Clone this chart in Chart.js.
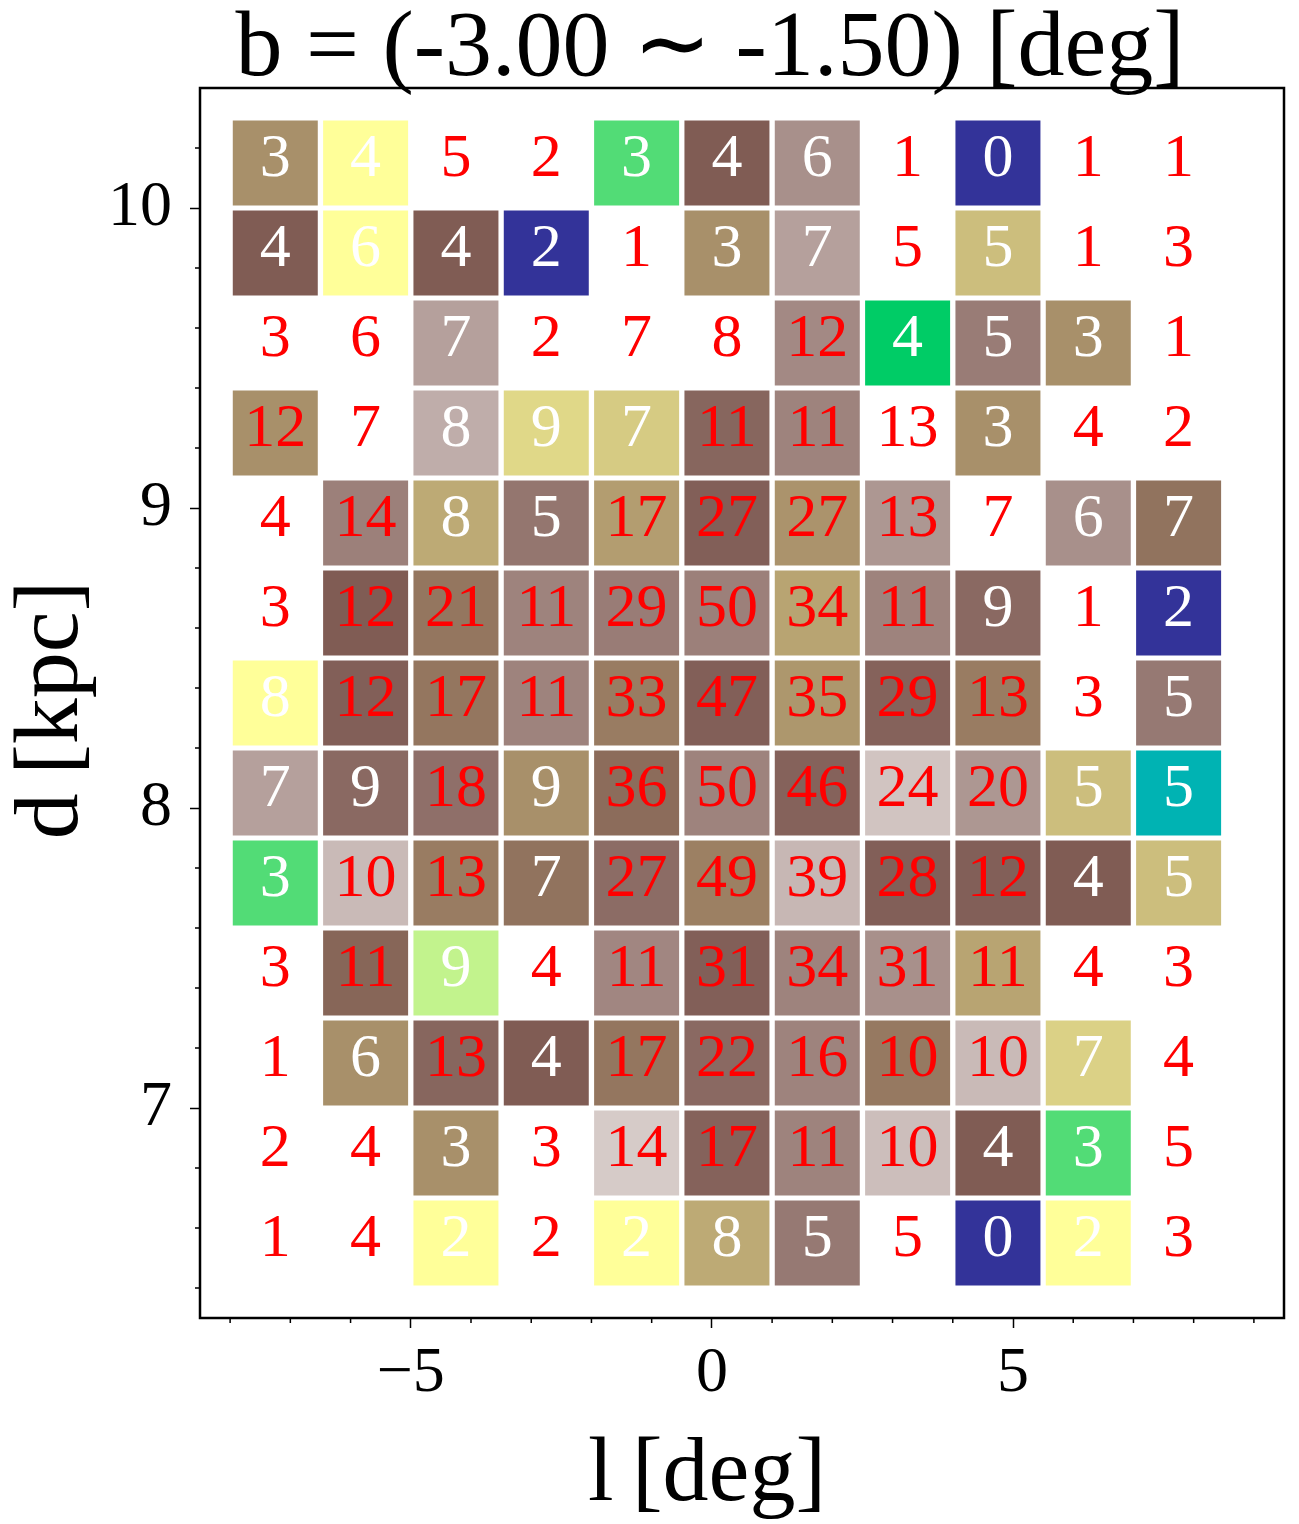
<!DOCTYPE html>
<html><head><meta charset="utf-8">
<script src="https://cdn.jsdelivr.net/npm/chart.js@4.4.1/dist/chart.umd.min.js"></script>
<style>html,body{margin:0;padding:0;background:#fff;}canvas{display:block;}</style>
</head><body>
<canvas id="c" width="1299" height="1524"></canvas>
<script>
// ---------------- data ----------------
const titleText = 'b = (-3.00 \u223C -1.50) [deg]';
const xLabel = 'l\u2009[deg]';
const yLabel = 'd\u2009[kpc]';

// bin centres
const lCenters = [-7.25, -5.75, -4.25, -2.75, -1.25, 0.25, 1.75, 3.25, 4.75, 6.25, 7.75];
const dCenters = [10.15, 9.85, 9.55, 9.25, 8.95, 8.65, 8.35, 8.05, 7.75, 7.45, 7.15, 6.85, 6.55];
const lBin = 1.5;
const dBin = 0.3;

// star counts per cell (rows top -> bottom)
const counts = [
  [3, 4, 5, 2, 3, 4, 6, 1, 0, 1, 1],
  [4, 6, 4, 2, 1, 3, 7, 5, 5, 1, 3],
  [3, 6, 7, 2, 7, 8, 12, 4, 5, 3, 1],
  [12, 7, 8, 9, 7, 11, 11, 13, 3, 4, 2],
  [4, 14, 8, 5, 17, 27, 27, 13, 7, 6, 7],
  [3, 12, 21, 11, 29, 50, 34, 11, 9, 1, 2],
  [8, 12, 17, 11, 33, 47, 35, 29, 13, 3, 5],
  [7, 9, 18, 9, 36, 50, 46, 24, 20, 5, 5],
  [3, 10, 13, 7, 27, 49, 39, 28, 12, 4, 5],
  [3, 11, 9, 4, 11, 31, 34, 31, 11, 4, 3],
  [1, 6, 13, 4, 17, 22, 16, 10, 10, 7, 4],
  [2, 4, 3, 3, 14, 17, 11, 10, 4, 3, 5],
  [1, 4, 2, 2, 2, 8, 5, 5, 0, 2, 3]
];

// colour-scale level per cell (0..1 on the terrain map, null = empty cell)
const levels = [
  [0.67, 0.50, null, null, 0.33, 0.75, 0.83, null, 0.00, null, null],
  [0.75, 0.50, 0.75, 0.00, null, 0.67, 0.855, null, 0.60, null, null],
  [null, null, 0.855, null, null, null, 0.82, 0.25, 0.80, 0.67, null],
  [0.67, null, 0.875, 0.56, 0.58, 0.765, 0.81, null, 0.67, null, null],
  [null, 0.805, 0.63, 0.79, 0.65, 0.755, 0.665, 0.84, null, 0.83, 0.715],
  [null, 0.75, 0.71, 0.81, 0.80, 0.805, 0.64, 0.81, 0.77, null, 0.00],
  [0.50, 0.755, 0.71, 0.81, 0.70, 0.755, 0.66, 0.76, 0.70, null, 0.795],
  [0.855, 0.77, 0.78, 0.67, 0.725, 0.81, 0.76, 0.91, 0.84, 0.60, 0.20],
  [0.33, 0.895, 0.70, 0.715, 0.775, 0.695, 0.89, 0.755, 0.755, 0.75, 0.60],
  [null, 0.735, 0.44, null, 0.815, 0.755, 0.81, 0.83, 0.64, null, null],
  [null, 0.67, 0.765, 0.75, 0.71, 0.77, 0.81, 0.705, 0.895, 0.57, null],
  [null, null, 0.67, null, 0.92, 0.76, 0.81, 0.90, 0.75, 0.33, null],
  [null, null, 0.50, null, 0.50, 0.63, 0.795, null, 0.00, 0.50, null]
];

const xMajorTicks = [-5, 0, 5];
const yMajorTicks = [7, 8, 9, 10];
const xMinorTicks = [-8, -7, -6, -4, -3, -2, -1, 1, 2, 3, 4, 6, 7, 8, 9];
const yMinorTicks = [6.4, 6.6, 6.8, 7.2, 7.4, 7.6, 7.8, 8.2, 8.4, 8.6, 8.8, 9.2, 9.4, 9.6, 9.8, 10.2];
const xRange = [-8.5, 9.5];
const yRange = [6.3, 10.4];

// ---------------- styling helpers ----------------
const FONT = '"Liberation Serif", "Times New Roman", serif';
const terrainStops = [
  [0.00, [0.2, 0.2, 0.6]],
  [0.15, [0.0, 0.6, 1.0]],
  [0.25, [0.0, 0.8, 0.4]],
  [0.50, [1.0, 1.0, 0.6]],
  [0.75, [0.5, 0.36, 0.33]],
  [1.00, [1.0, 1.0, 1.0]]
];
function terrain(v) {
  v = Math.max(0, Math.min(1, v));
  for (let i = 1; i < terrainStops.length; i++) {
    const [v1, c1] = terrainStops[i];
    const [v0, c0] = terrainStops[i - 1];
    if (v <= v1) {
      const f = (v - v0) / (v1 - v0);
      const c = c0.map((a, k) => Math.round(255 * (a + (c1[k] - a) * f)));
      return `rgb(${c[0]},${c[1]},${c[2]})`;
    }
  }
  return '#ffffff';
}

const cells = [];
dCenters.forEach((d, r) => {
  lCenters.forEach((l, c) => {
    cells.push({ x: l, y: d, n: counts[r][c], v: levels[r][c] });
  });
});

const GAP = 5;
function cellRadius(ctx) {
  const s = ctx.chart.scales;
  if (!s.x || !s.y) return 0;
  const w = Math.abs(s.x.getPixelForValue(lBin) - s.x.getPixelForValue(0));
  const h = Math.abs(s.y.getPixelForValue(dBin) - s.y.getPixelForValue(0));
  return (Math.min(w, h) - GAP) / Math.SQRT2;
}

const decorPlugin = {
  id: 'decor',
  afterDatasetsDraw(chart) {
    const ctx = chart.ctx;
    const meta = chart.getDatasetMeta(0);
    const data = chart.data.datasets[0].data;
    ctx.save();
    ctx.font = '62px ' + FONT;
    ctx.textAlign = 'center';
    ctx.textBaseline = 'middle';
    meta.data.forEach((pt, i) => {
      const d = data[i];
      ctx.fillStyle = (d.v === null || d.n >= 10) ? '#ff0000' : '#ffffff';
      ctx.fillText(String(d.n), pt.x, pt.y - 3);
    });
    ctx.restore();
  },
  afterDraw(chart) {
    const ctx = chart.ctx;
    const a = chart.chartArea;
    const sx = chart.scales.x, sy = chart.scales.y;
    ctx.save();
    // minor ticks
    ctx.strokeStyle = '#000';
    ctx.lineWidth = 1.5;
    ctx.beginPath();
    xMinorTicks.forEach(v => {
      const px = sx.getPixelForValue(v);
      ctx.moveTo(px, a.bottom); ctx.lineTo(px, a.bottom + 5);
    });
    yMinorTicks.forEach(v => {
      const py = sy.getPixelForValue(v);
      ctx.moveTo(a.left, py); ctx.lineTo(a.left - 5, py);
    });
    ctx.stroke();
    // frame
    ctx.lineWidth = 2.5;
    ctx.strokeRect(a.left, a.top, a.right - a.left, a.bottom - a.top);
    // title
    ctx.fillStyle = '#000';
    ctx.textAlign = 'center';
    ctx.textBaseline = 'alphabetic';
    ctx.font = '94px ' + FONT;
    ctx.fillText(titleText, a.left + 510, 75);
    // x label
    ctx.font = '92px ' + FONT;
    ctx.fillText(xLabel, a.left + 507, 1500);
    // y label
    ctx.translate(77, 710);
    ctx.rotate(-Math.PI / 2);
    ctx.fillText(yLabel, 0, 0);
    ctx.restore();
  }
};

new Chart(document.getElementById('c'), {
  type: 'scatter',
  data: {
    datasets: [{
      data: cells,
      pointStyle: 'rect',
      pointRadius: cellRadius,
      pointHoverRadius: cellRadius,
      pointBorderWidth: 0,
      pointBackgroundColor: ctx => (ctx.raw && ctx.raw.v !== null) ? terrain(ctx.raw.v) : 'rgba(0,0,0,0)',
      clip: false
    }]
  },
  options: {
    responsive: false,
    animation: false,
    devicePixelRatio: 1,
    events: [],
    layout: { padding: { top: 88, right: 15, left: 0, bottom: 0 } },
    plugins: { legend: { display: false }, tooltip: { enabled: false }, title: { display: false } },
    scales: {
      x: {
        type: 'linear',
        min: xRange[0], max: xRange[1],
        afterBuildTicks: s => { s.ticks = xMajorTicks.map(v => ({ value: v })); },
        afterFit: s => { s.height = 206; },
        border: { display: false },
        grid: { drawOnChartArea: false, drawTicks: true, tickLength: 10, tickColor: '#000', tickWidth: 1.5 },
        ticks: {
          color: '#000', padding: 8, maxRotation: 0, autoSkip: false,
          font: { family: FONT, size: 64 },
          callback: v => v < 0 ? '\u2212' + Math.abs(v) : String(v)
        }
      },
      y: {
        type: 'linear',
        min: yRange[0], max: yRange[1],
        afterBuildTicks: s => { s.ticks = yMajorTicks.map(v => ({ value: v })); },
        afterFit: s => { s.width = 200; },
        border: { display: false },
        grid: { drawOnChartArea: false, drawTicks: true, tickLength: 10, tickColor: '#000', tickWidth: 1.5 },
        ticks: {
          color: '#000', padding: 18, autoSkip: false,
          font: { family: FONT, size: 64 },
          callback: v => String(v)
        }
      }
    }
  },
  plugins: [decorPlugin]
});
</script>
</body></html>
